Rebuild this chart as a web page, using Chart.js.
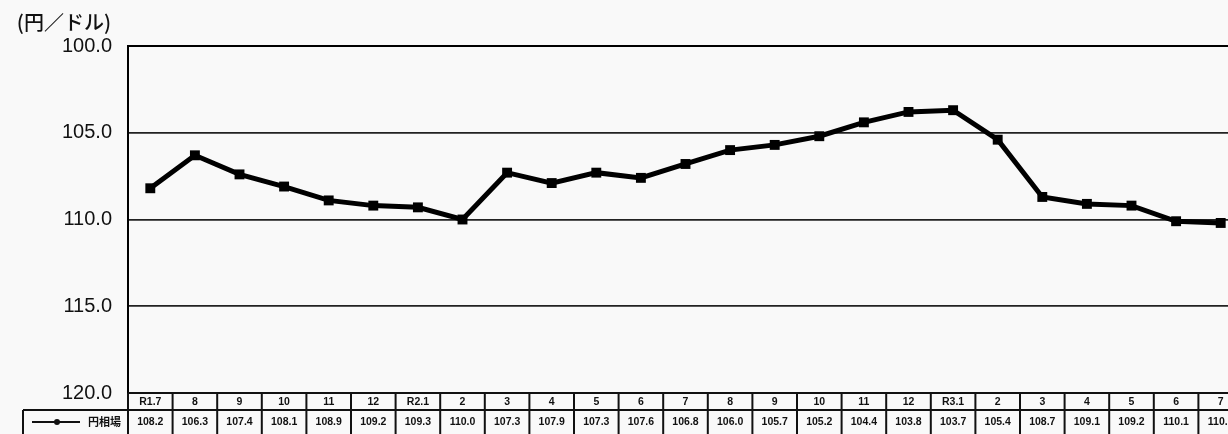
<!DOCTYPE html>
<html lang="ja">
<head>
<meta charset="utf-8">
<script src="https://cdn.jsdelivr.net/npm/chart.js@4.4.1/dist/chart.umd.min.js"></script>
<style>
  html, body { margin: 0; padding: 0; background: #f9f9f9; overflow: hidden; }
  #wrap { position: relative; width: 1260px; height: 434px; }
</style>
</head>
<body>
<div id="wrap"><canvas id="c"></canvas></div>
<script>
// 月（年月表記）
const months = ['R1.7','8','9','10','11','12','R2.1','2','3','4','5','6','7','8','9','10','11','12','R3.1','2','3','4','5','6','7'];
// 円相場（円／ドル）
const yenRate = [108.2,106.3,107.4,108.1,108.9,109.2,109.3,110.0,107.3,107.9,107.3,107.6,106.8,106.0,105.7,105.2,104.4,103.8,103.7,105.4,108.7,109.1,109.2,110.1,110.2];
const seriesName = '円相場';
const unitLabel = '(円／ドル)';
const yTicks = [100, 105, 110, 115, 120];

const JP = '"Noto Sans CJK JP", "Liberation Sans", sans-serif';
const NUM = '"Liberation Sans", Arial, sans-serif';

// 単位表記と下部のデータ表
const tablePlugin = {
  id: 'dataTable',
  afterDraw(chart) {
    const ctx = chart.ctx;
    const x = chart.scales.x;
    const area = chart.chartArea;
    const n = months.length;
    const colW = (area.right - area.left) / n;

    ctx.save();
    // 単位
    ctx.fillStyle = '#111';
    ctx.font = '500 20px ' + JP;
    ctx.textAlign = 'right';
    ctx.textBaseline = 'middle';
    ctx.fillText(unitLabel, area.left - 17, 22);

    const top = area.bottom;
    const mid = top + 17;
    const bot = chart.height + 10;
    const legendLeft = 23;

    ctx.strokeStyle = '#111';
    ctx.lineWidth = 2;
    ctx.beginPath();
    ctx.moveTo(area.left, top); ctx.lineTo(area.right, top);
    ctx.moveTo(legendLeft, mid); ctx.lineTo(area.right, mid);
    ctx.moveTo(legendLeft, mid); ctx.lineTo(legendLeft, bot);
    for (let i = 0; i <= n; i++) {
      const cx = area.left + i * colW;
      ctx.moveTo(cx, top); ctx.lineTo(cx, bot);
    }
    ctx.stroke();

    // 見出し行と値行
    ctx.fillStyle = '#111';
    ctx.textAlign = 'center';
    ctx.textBaseline = 'middle';
    ctx.font = 'bold 10.5px ' + NUM;
    for (let i = 0; i < n; i++) {
      const cx = x.getPixelForValue(i);
      ctx.fillText(months[i], cx, top + 9);
      ctx.fillText(yenRate[i].toFixed(1), cx, mid + 12);
    }

    // 凡例
    const ly = mid + 12;
    ctx.strokeStyle = '#111';
    ctx.lineWidth = 2;
    ctx.beginPath();
    ctx.moveTo(32, ly); ctx.lineTo(80, ly);
    ctx.stroke();
    ctx.beginPath();
    ctx.arc(57, ly, 3, 0, Math.PI * 2);
    ctx.fill();
    ctx.font = 'bold 11px ' + JP;
    ctx.textAlign = 'left';
    ctx.fillText(seriesName, 88, ly);
    ctx.restore();
  }
};

new Chart(document.getElementById('c'), {
  type: 'line',
  data: {
    labels: months,
    datasets: [{
      label: seriesName,
      data: yenRate,
      borderColor: '#000',
      backgroundColor: '#000',
      borderWidth: 5,
      pointStyle: 'rect',
      pointRadius: 7,
      pointBorderWidth: 0,
      pointBackgroundColor: '#000',
      tension: 0,
      clip: false
    }]
  },
  options: {
    responsive: true,
    maintainAspectRatio: false,
    animation: false,
    layout: { padding: { top: 46, bottom: 41, left: 0, right: 17 } },
    plugins: { legend: { display: false }, tooltip: { enabled: false } },
    scales: {
      x: {
        display: false,
        offset: true,
        grid: { display: false }
      },
      y: {
        reverse: true,
        min: 100,
        max: 120,
        afterFit(s) { s.width = 128; },
        afterBuildTicks(s) { s.ticks = yTicks.map(v => ({ value: v })); },
        ticks: {
          padding: 16,
          color: '#111',
          font: { family: NUM, size: 20 },
          callback: v => Number(v).toFixed(1)
        },
        border: { display: true, color: '#000', width: 2 },
        grid: {
          drawTicks: false,
          color: c => (c.tick.value === 100 || c.tick.value === 120) ? '#000' : '#222',
          lineWidth: c => (c.tick.value === 100 || c.tick.value === 120) ? 2 : 1.8
        }
      }
    }
  },
  plugins: [tablePlugin]
});
</script>
</body>
</html>
